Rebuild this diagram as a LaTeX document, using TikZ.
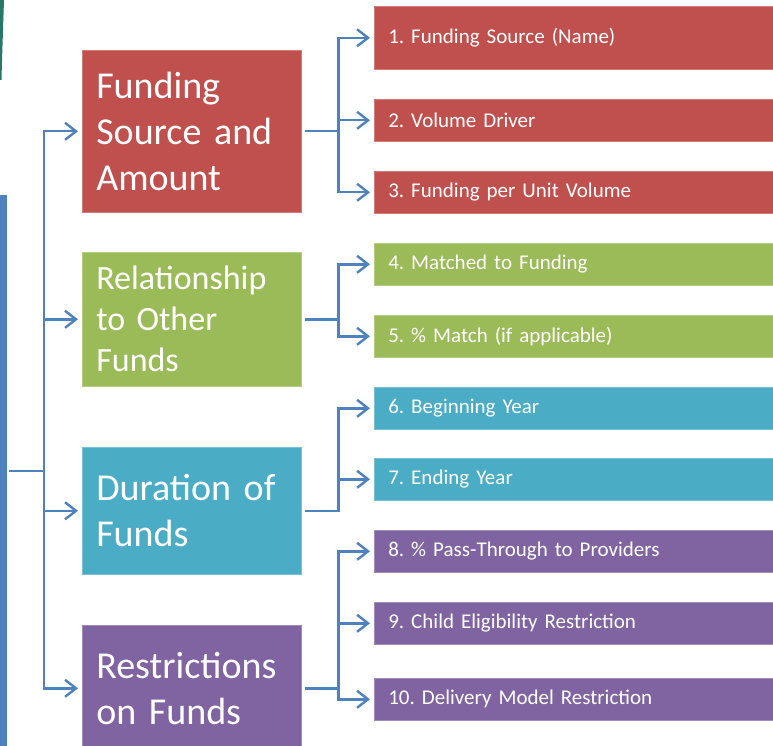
\documentclass[tikz,border=0pt]{standalone}
\usepackage{fontspec}
\setmainfont{Carlito}
\usepackage{xcolor}
\usetikzlibrary{arrows.meta, positioning}
\definecolor{offred}{RGB}{192, 80, 77}
\definecolor{offgreen}{RGB}{155, 187, 89}
\definecolor{offteal}{RGB}{75, 172, 198}
\definecolor{offpurple}{RGB}{128, 100, 162}
\definecolor{offblue}{RGB}{79, 129, 189}
\definecolor{deepteal}{RGB}{40, 120, 104}
\frenchspacing

\begin{document}
\begin{tikzpicture}[x=1pt, y=-1pt,
  topic/.style={anchor=north west, minimum width=219pt, text width=191pt, inner xsep=14pt, inner ysep=0pt, align=left, text=white, line width=0.6pt, font=\fontsize{38}{46}\selectfont},
  item/.style={anchor=north west, minimum width=402pt, text width=374pt, inner xsep=14pt, inner ysep=0pt, minimum height=42pt, align=left, text=white, line width=0.6pt, font=\fontsize{21}{25}\selectfont},
  wire/.style={draw=offblue, line width=2.4pt},
  link/.style={wire, -{Straight Barb[length=11pt, width=17pt]}, shorten >=4pt}
]
\useasboundingbox (0,0) rectangle (773,746);

% Decoration at the edge
\fill[deepteal] (0,0) -- (4,0) .. controls (3,30) and (2,60) .. (1.5,80) -- (0,80) -- cycle;
\node[fill=offblue, minimum width=7pt, minimum height=560pt, inner sep=0pt, anchor=north west] (spine) at (0,195) {};

% Funding source
\node[topic, fill=offred, draw=offred!75!white, minimum height=162pt] (fund) at (82,50) {Funding\\Source and\\Amount};
\node[item, fill=offred, draw=offred!75!white, minimum height=63pt] (s1) at (374,6) {1. Funding Source (Name)};
\node[item, fill=offred, draw=offred!75!white] (s2) at (374,99) {2. Volume Driver};
\node[item, fill=offred, draw=offred!75!white] (s3) at (374,171) {3. Funding per Unit Volume};

% Relationship
\node[topic, fill=offgreen, draw=offgreen!75!white, minimum height=134pt, font=\fontsize{34}{41}\selectfont] (rel) at (82,252) {Relationship\\to Other\\Funds};
\node[item, fill=offgreen, draw=offgreen!75!white] (s4) at (374,243) {4. Matched to Funding};
\node[item, fill=offgreen, draw=offgreen!75!white] (s5) at (374,315) {5. \% Match (if applicable)};

% Duration
\node[topic, fill=offteal, draw=offteal!75!white, minimum height=127pt] (dur) at (82,447) {Duration of\\Funds};
\node[item, fill=offteal, draw=offteal!75!white] (s6) at (374,387) {6. Beginning Year};
\node[item, fill=offteal, draw=offteal!75!white] (s7) at (374,458) {7. Ending Year};

% Restrictions
\node[topic, fill=offpurple, draw=offpurple!75!white, minimum height=126pt] (restr) at (82,625) {Restrictions\\on Funds};
\node[item, fill=offpurple, draw=offpurple!75!white] (s8) at (374,530) {8. \% Pass-Through to Providers};
\node[item, fill=offpurple, draw=offpurple!75!white] (s9) at (374,602) {9. Child Eligibility Restriction};
\node[item, fill=offpurple, draw=offpurple!75!white] (s10) at (374,678) {10. Delivery Model Restriction};

% Trunk
\coordinate (hub) at (44,471);
\draw[wire, shorten <=2pt] (spine.east |- hub) -- (hub);
\foreach \t in {fund, rel, dur, restr}
  \draw[link] (hub) |- (\t.west);

% Branches
\foreach \t/\s in {fund/s1, fund/s2, fund/s3, rel/s4, rel/s5, dur/s6, dur/s7, restr/s8, restr/s9, restr/s10}
  \draw[link, shorten <=3pt] (\t.east) -- ++(37,0) |- (\s.west);
\end{tikzpicture}
\end{document}
